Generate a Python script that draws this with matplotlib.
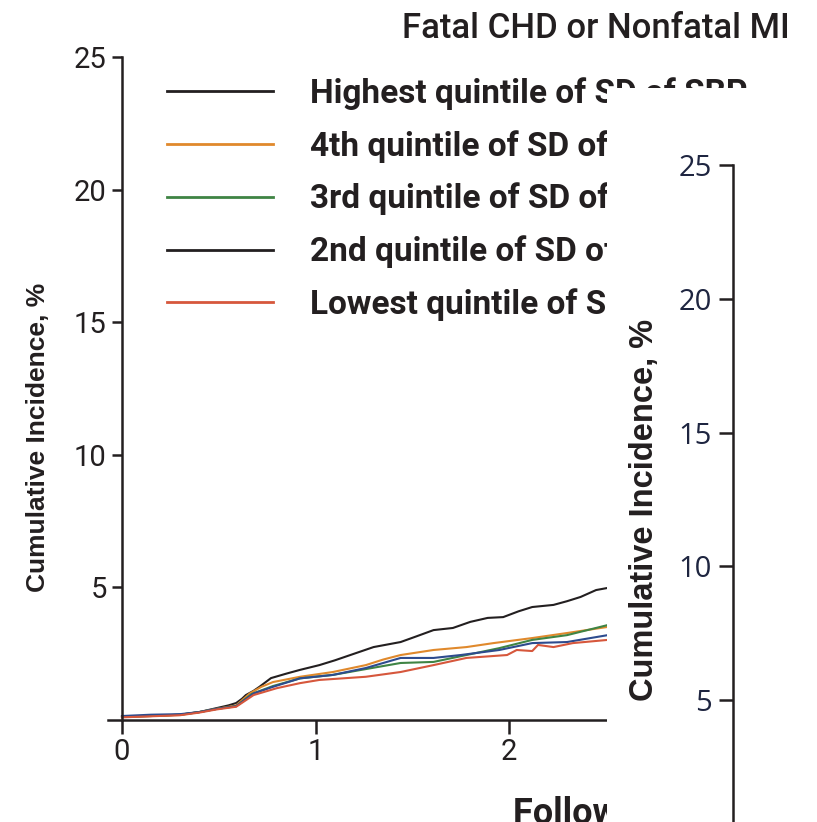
import matplotlib
matplotlib.use("Agg")
import matplotlib.pyplot as plt
from matplotlib.patches import Rectangle

# cumulative incidence (%) by follow-up year
x_high = [0.0, 0.15, 0.30, 0.40, 0.49, 0.55, 0.59, 0.62, 0.64, 0.68, 0.71, 0.77, 0.85, 0.92, 1.02, 1.10,
          1.18, 1.30, 1.44, 1.52, 1.61, 1.71, 1.80, 1.89, 1.97, 2.05, 2.12, 2.23, 2.30, 2.37, 2.45, 2.51]
y_high = [0.12, 0.15, 0.20, 0.30, 0.45, 0.55, 0.64, 0.80, 0.94, 1.10, 1.25, 1.58, 1.75, 1.89, 2.07, 2.25,
          2.45, 2.75, 2.94, 3.15, 3.39, 3.47, 3.70, 3.85, 3.88, 4.10, 4.26, 4.34, 4.48, 4.64, 4.90, 4.98]

x_q4 = [0.0, 0.15, 0.30, 0.40, 0.49, 0.59, 0.66, 0.72, 0.78, 0.92, 1.09, 1.26, 1.35, 1.44, 1.61, 1.78,
        1.92, 2.12, 2.30, 2.51]
y_q4 = [0.12, 0.15, 0.19, 0.30, 0.42, 0.55, 1.00, 1.25, 1.43, 1.63, 1.81, 2.07, 2.28, 2.45, 2.64, 2.75,
        2.90, 3.09, 3.28, 3.51]

x_q3 = [0.0, 0.15, 0.30, 0.40, 0.49, 0.59, 0.67, 0.78, 0.92, 1.09, 1.26, 1.44, 1.61, 1.78, 1.95, 2.12,
        2.30, 2.51]
y_q3 = [0.12, 0.16, 0.20, 0.30, 0.42, 0.52, 0.98, 1.28, 1.57, 1.70, 1.92, 2.15, 2.19, 2.45, 2.71, 3.02,
        3.20, 3.58]

x_q2 = [0.0, 0.15, 0.30, 0.40, 0.49, 0.59, 0.68, 0.78, 0.92, 1.09, 1.26, 1.44, 1.61, 1.75, 1.95, 2.12,
        2.30, 2.51]
y_q2 = [0.15, 0.20, 0.22, 0.30, 0.42, 0.52, 1.00, 1.25, 1.57, 1.70, 1.96, 2.34, 2.34, 2.45, 2.64, 2.90,
        2.94, 3.20]

x_low = [0.0, 0.15, 0.30, 0.40, 0.49, 0.59, 0.68, 0.80, 0.92, 1.02, 1.26, 1.44, 1.61, 1.78, 1.99, 2.04,
         2.12, 2.15, 2.23, 2.33, 2.51]
y_low = [0.10, 0.14, 0.18, 0.28, 0.40, 0.50, 0.94, 1.20, 1.39, 1.51, 1.63, 1.81, 2.07, 2.34, 2.45, 2.64,
         2.60, 2.83, 2.75, 2.90, 3.02]

labels = ["Highest quintile of SD of SBP", "4th quintile of SD of SBP", "3rd quintile of SD of SBP",
          "2nd quintile of SD of SBP", "Lowest quintile of SD of SBP"]
colors = ["#231f20", "#e0892c", "#3f8444", "#2d4b8e", "#d6573c"]
yticks = [5, 10, 15, 20, 25]
xticks = [0, 1, 2]

W, H = 817, 822
fig = plt.figure(figsize=(W / 100, H / 100), dpi=100)
ink = "#231f20"
narrow = ["Roboto", "DejaVu Sans"]
arial = ["Liberation Sans", "DejaVu Sans"]

# left panel: y axis at x=122px, y=0 at 720px, y=25 at 57px, 1 year = 193.5px
ax = fig.add_axes([108 / W, (H - 720) / H, (W - 108) / W, 663 / H])
ax.set_xlim(-14 / 193.5, (W - 108 - 14) / 193.5)
ax.set_ylim(0, 25)
series = [(x_high, y_high), (x_q4, y_q4), (x_q3, y_q3), (x_q2, y_q2), (x_low, y_low)]
for (xs, ys), c, lab in zip(series, colors, labels):
    ax.plot(xs, ys, color=c, lw=1.5, label=lab, clip_on=False)
for s in ["top", "right"]:
    ax.spines[s].set_visible(False)
ax.spines["left"].set_position(("data", 0))
ax.spines["left"].set_linewidth(1.8)
ax.spines["bottom"].set_linewidth(1.8)
ax.spines["left"].set_color(ink)
ax.spines["bottom"].set_color(ink)
ax.set_yticks(yticks)
ax.set_xticks(xticks)
ax.tick_params(direction="out", length=7, width=1.8, color=ink, labelcolor=ink, pad=4)
ax.tick_params(axis="x", length=10, pad=3)
for t in ax.get_xticklabels() + ax.get_yticklabels():
    t.set_family(narrow)
    t.set_fontsize(21)
ax.set_ylabel("Cumulative Incidence, %", fontsize=19, fontweight="bold", color=ink, family=arial)
ax.yaxis.set_label_coords(-0.082, 0.427)
ax.set_xlabel("Follow-up, y", fontsize=26, fontweight="bold", color=ink, family=narrow)
ax.xaxis.set_label_coords((513 - 108) / (W - 108), -0.115)
ax.xaxis.label.set_ha("left")

leg = ax.legend(loc="upper left", bbox_to_anchor=(137 / W, 1 - 47 / H), bbox_transform=fig.transFigure,
                frameon=False, prop={"family": narrow, "size": 24, "weight": "bold"},
                handlelength=3.18, handletextpad=1.11, labelspacing=0.6)
for t in leg.get_texts():
    t.set_color(ink)
leg.get_lines()[3].set_color(ink)
for ln in leg.get_lines():
    ln.set_linewidth(2)

fig.text(790 / W, 1 - 28 / H, "Fatal CHD or Nonfatal MI", ha="right", va="center", fontsize=25,
         fontweight="medium", color=ink, family=narrow)

# second panel overlapping on the right
cover = Rectangle((607 / W, 0), 1 - 607 / W, 1 - 88 / H, transform=fig.transFigure,
                  facecolor="white", edgecolor="none", zorder=5)
fig.add_artist(cover)

ax2 = fig.add_axes([733 / W, (H - 834) / H, (W - 733) / W, 669 / H], zorder=6)
ax2.patch.set_visible(False)
ax2.set_ylim(0, 25)
ax2.set_xlim(0, 1)
ax2.set_xticks([])
ax2.set_yticks(yticks)
for s in ["top", "right", "bottom"]:
    ax2.spines[s].set_visible(False)
ax2.spines["left"].set_linewidth(1.8)
ax2.spines["left"].set_color(ink)
ax2.tick_params(direction="out", length=10, width=1.8, color=ink, labelcolor="#1e2540", pad=5)
for t in ax2.get_yticklabels():
    t.set_family(["Open Sans", "DejaVu Sans"])
    t.set_fontsize(21)
ax2.set_ylabel("Cumulative Incidence, %", fontsize=23.5, fontweight="bold", color=ink, family=arial)
ax2.yaxis.set_label_coords(-0.87, 0.485)

fig.savefig("out.png", dpi=100)
